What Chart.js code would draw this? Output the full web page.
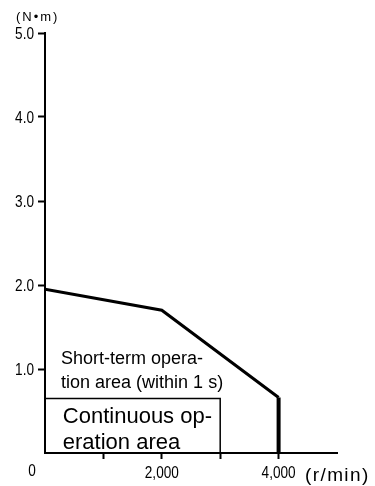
<!DOCTYPE html>
<html>
<head>
<meta charset="utf-8">
<script src="https://cdn.jsdelivr.net/npm/chart.js@4"></script>
<style>
  html, body { margin: 0; padding: 0; background: #fff; }
  #wrap { width: 375px; height: 486px; position: relative; }
</style>
</head>
<body>
<div id="wrap"><canvas id="c" width="375" height="486"></canvas></div>
<script>
// Speed (r/min) and torque (N·m) points of the torque–speed envelope
const shortTermSpeed  = [0, 2000, 4000, 4000];
const shortTermTorque = [1.95, 1.70, 0.66, 0];

// Continuous operation boundary
const contSpeed  = [0, 3000, 3000];
const contTorque = [0.65, 0.65, 0];

// Axis ticks
const xTickValues = [0, 1000, 2000, 3000, 4000, 5000];
const xTickLabels = ['', '', '2,000', '', '4,000', ''];
const yTickValues = [0, 1, 2, 3, 4, 5];
const yTickLabels = ['', '1.0', '2.0', '3.0', '4.0', '5.0'];

// Area captions: [speed, torque, font size, text]
const captions = [
  [275, 1.12, 18, 'Short-term opera-'],
  [275, 0.83, 18, 'tion area (within 1 s)'],
  [305, 0.43, 22, 'Continuous op-'],
  [305, 0.12, 22, 'eration area']
];

const sans = '"Liberation Sans", Arial, sans-serif';
const CONDENSE = 0.8;   // horizontal squeeze for the numeric tick labels

const toPts = (xs, ys) => xs.map((x, i) => ({ x, y: ys[i] }));

function condensedText(ctx, text, px, py, align) {
  ctx.save();
  ctx.scale(CONDENSE, 1);
  ctx.textAlign = align;
  ctx.fillText(text, px / CONDENSE, py);
  ctx.restore();
}

const textPlugin = {
  id: 'texts',
  afterDraw(chart) {
    const { ctx, scales: { x, y } } = chart;
    ctx.save();
    ctx.fillStyle = '#000';
    ctx.textBaseline = 'middle';

    // tick labels, positioned by the scales
    ctx.font = '17px ' + sans;
    xTickValues.forEach((v, i) => {
      if (xTickLabels[i]) condensedText(ctx, xTickLabels[i], x.getPixelForValue(v), 473, 'center');
    });
    yTickValues.forEach((v, i) => {
      if (yTickLabels[i]) condensedText(ctx, yTickLabels[i], 34, y.getPixelForValue(v) + 1, 'right');
    });
    condensedText(ctx, '0', x.left - 13, 471, 'center');

    // area captions
    ctx.textAlign = 'left';
    captions.forEach(([sx, ty, fs, t]) => {
      ctx.font = fs + 'px ' + sans;
      ctx.fillText(t, x.getPixelForValue(sx), y.getPixelForValue(ty));
    });

    // axis units
    ctx.font = '13px ' + sans;
    ctx.letterSpacing = '2px';
    ctx.fillText('(N\u2022m)', 16, 17);
    ctx.font = '19px ' + sans;
    ctx.letterSpacing = '1.4px';
    ctx.fillText('(r/min)', 305, 476);
    ctx.restore();
  }
};

new Chart(document.getElementById('c'), {
  type: 'line',
  data: {
    datasets: [
      {
        data: toPts(shortTermSpeed.slice(0, 3), shortTermTorque.slice(0, 3)),
        borderColor: '#000', borderWidth: 3, pointRadius: 0, tension: 0, fill: false
      },
      {
        data: toPts(shortTermSpeed.slice(2), shortTermTorque.slice(2)),
        borderColor: '#000', borderWidth: 4, pointRadius: 0, tension: 0, fill: false
      },
      {
        data: toPts(contSpeed, contTorque),
        borderColor: '#000', borderWidth: 1.5, pointRadius: 0, tension: 0, fill: false
      }
    ]
  },
  options: {
    responsive: false,
    animation: false,
    layout: { padding: { top: 33, right: 38, left: 0, bottom: 0 } },
    plugins: { legend: { display: false }, tooltip: { enabled: false } },
    scales: {
      x: {
        type: 'linear', min: 0, max: 5000,
        afterBuildTicks: s => { s.ticks = xTickValues.map(v => ({ value: v })); },
        afterFit: s => { s.height = 33; },
        border: { display: true, color: '#000', width: 2 },
        grid: {
          drawOnChartArea: false, drawTicks: true, tickLength: 6,
          tickColor: c => (c.tick && (c.tick.value === 0 || c.tick.value === 5000)) ? 'rgba(0,0,0,0)' : '#000',
          tickWidth: 2
        },
        ticks: { display: false }
      },
      y: {
        type: 'linear', min: 0, max: 5,
        afterBuildTicks: s => { s.ticks = yTickValues.map(v => ({ value: v })); },
        afterFit: s => { s.width = 45; },
        border: { display: true, color: '#000', width: 2 },
        grid: {
          drawOnChartArea: false, drawTicks: true, tickLength: 7,
          tickColor: c => (c.tick && c.tick.value === 0) ? 'rgba(0,0,0,0)' : '#000',
          tickWidth: 2
        },
        ticks: { display: false }
      }
    }
  },
  plugins: [textPlugin]
});
</script>
</body>
</html>
